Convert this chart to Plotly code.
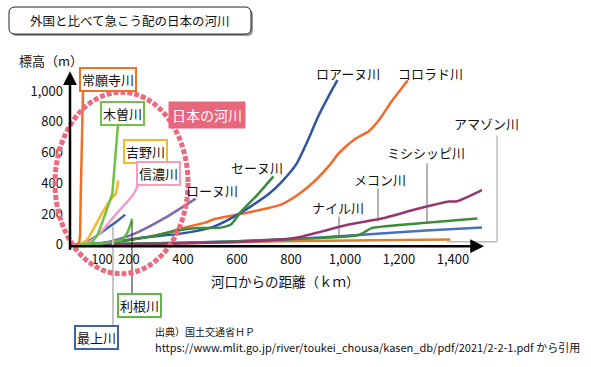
import plotly.graph_objects as go

W, H = 591, 367          # target picture size (pixels)
FIG_H = 375              # page height that gets photographed into 367 rows
VS = FIG_H / H           # vertical compensation factor


def X(px):
    return px / W


def Y(py):
    return 1 - py / H


# ---------------- data (distance from river mouth [km], elevation [m]) ----------------
jouganji_km = [0, 10, 16, 19, 21, 24, 27, 30]
jouganji_m = [0, 5, 20, 60, 300, 600, 850, 1030]

kiso_km = [0, 30, 50, 65, 85, 104, 120, 130, 138, 145, 152, 160]
kiso_m = [0, 3, 8, 20, 70, 160, 240, 290, 330, 480, 640, 800]

yoshino_km = [0, 20, 45, 67, 93, 119, 138, 149, 156, 160]
yoshino_m = [0, 5, 33, 98, 183, 261, 307, 327, 373, 418]

shinano_km = [0, 30, 67, 104, 138, 165, 194, 216, 235]
shinano_m = [0, 5, 33, 98, 170, 225, 281, 327, 392]

mogami_km = [0, 37, 70, 112, 149, 186]
mogami_m = [0, 11, 45, 98, 144, 196]

tone_km = [0, 60, 123, 175, 194, 205, 212]
tone_m = [0, 4, 13, 33, 78, 131, 170]

rhone_km = [0, 60, 112, 212, 335, 447]
rhone_m = [0, 3, 13, 65, 176, 300]

seine_km = [0, 100, 200, 300, 391, 454, 540, 577, 615, 678, 735]
seine_m = [0, 10, 30, 60, 95, 108, 111, 131, 215, 330, 445]

loire_km = [0, 130, 253, 391, 514, 615, 715, 763, 819, 864, 901, 939, 972]
loire_m = [0, 13, 46, 72, 118, 209, 327, 405, 523, 686, 837, 967, 1072]

colorado_km = [0, 104, 212, 335, 391, 484, 514, 640, 763, 827, 886, 939, 980,
               1035, 1088, 1128, 1173, 1233]
colorado_m = [0, 12, 33, 75, 105, 145, 165, 209, 261, 327, 412, 510, 601,
              686, 739, 817, 935, 1072]

nile_km = [0, 400, 763, 1050, 1300, 1520]
nile_m = [0, 12, 33, 63, 92, 113]

mississippi_km = [0, 400, 763, 1050, 1080, 1099, 1311, 1490]
mississippi_m = [0, 12, 33, 63, 90, 108, 144, 170]

mekong_km = [0, 300, 600, 763, 838, 912, 1013, 1136, 1259, 1385, 1415, 1520]
mekong_m = [0, 5, 18, 33, 52, 85, 131, 170, 229, 281, 283, 366]

amazon_km = [0, 400, 763, 1390]
amazon_m = [0, 10, 22, 33]

x_tickvals = [100, 200, 400, 600, 800, 1000, 1200, 1400]
x_ticktext = ["100", "200", "400", "600", "800", "1,000", "1,200", "1,400"]
y_tickvals = [0, 200, 400, 600, 800, 1000]
y_ticktext = ["0", "200", "400", "600", "800", "1,000"]

FONT = "Noto Sans CJK JP"

rivers = [
    ("アマゾン川", amazon_km, amazon_m, "#d3822f", "spline"),
    ("ナイル川", nile_km, nile_m, "#4a6fc0", "spline"),
    ("ミシシッピ川", mississippi_km, mississippi_m, "#3c8c3c", "spline"),
    ("メコン川", mekong_km, mekong_m, "#9b3473", "spline"),
    ("コロラド川", colorado_km, colorado_m, "#f26a2a", "spline"),
    ("ロアーヌ川", loire_km, loire_m, "#2f54a3", "spline"),
    ("セーヌ川", seine_km, seine_m, "#3b8a3e", "spline"),
    ("ローヌ川", rhone_km, rhone_m, "#8069ad", "spline"),
    ("利根川", tone_km, tone_m, "#5cb946", "spline"),
    ("最上川", mogami_km, mogami_m, "#3d62b0", "spline"),
    ("信濃川", shinano_km, shinano_m, "#f19ec2", "spline"),
    ("吉野川", yoshino_km, yoshino_m, "#f6b728", "spline"),
    ("木曽川", kiso_km, kiso_m, "#72c043", "linear"),
    ("常願寺川", jouganji_km, jouganji_m, "#f07028", "linear"),
]

fig = go.Figure()
for name, km, m, color, shape in rivers:
    line = dict(color=color, width=2.5, shape=shape)
    if shape == "spline":
        line["smoothing"] = 0.6
    fig.add_trace(go.Scatter(x=km, y=m, mode="lines", name=name, line=line,
                             hoverinfo="name"))

# axis geometry (target pixels): x: 0 km -> 75 px, 0.27 px/km ; y: 0 m -> 244 px, 0.153 px/m
XPX0, XS = 75.0, 0.27
YPX0, YS = 244.0, 0.153
ax_left, ax_right = 70, 482
ax_top, ax_bottom = 73, 245.5
x_range = [(ax_left - XPX0) / XS, (ax_right - XPX0) / XS]
y_range = [(YPX0 - ax_bottom) / YS, (YPX0 - ax_top) / YS]

fig.update_layout(
    width=W, height=FIG_H,
    margin=dict(l=0, r=0, t=0, b=0),
    paper_bgcolor="white", plot_bgcolor="white",
    showlegend=False,
    font=dict(family=FONT, color="#111"),
    xaxis=dict(domain=[X(ax_left), X(ax_right)], range=x_range,
               showgrid=False, zeroline=False, showline=False, ticks="",
               tickvals=x_tickvals, ticktext=x_ticktext,
               tickfont=dict(size=13, family=FONT, color="#111"),
               ticklabelstandoff=4, fixedrange=True),
    yaxis=dict(domain=[Y(ax_bottom), Y(ax_top)], range=y_range,
               showgrid=False, zeroline=False, showline=False, ticks="",
               tickvals=y_tickvals, ticktext=y_ticktext,
               tickfont=dict(size=13, family=FONT, color="#111"),
               ticklabelstandoff=6, fixedrange=True),
)

shapes = []


def rrect(x0, y0, x1, y1, r):
    rx, ry = r / W, r / H
    a, b, c, d = X(x0), Y(y0), X(x1), Y(y1)  # b top (higher), d bottom
    return (f"M {a+rx},{b} L {c-rx},{b} Q {c},{b} {c},{b-ry} L {c},{d+ry} "
            f"Q {c},{d} {c-rx},{d} L {a+rx},{d} Q {a},{d} {a},{d+ry} "
            f"L {a},{b-ry} Q {a},{b} {a+rx},{b} Z")


# title box with shadow
shapes.append(dict(type="path", xref="paper", yref="paper",
                   path=rrect(11, 9, 253, 36, 6), fillcolor="#9a9a9a",
                   line=dict(width=0), layer="above"))
shapes.append(dict(type="path", xref="paper", yref="paper",
                   path=rrect(9, 7, 251, 34, 6), fillcolor="white",
                   line=dict(color="#222", width=1), layer="above"))


def vline(x, y0, y1, color, width):
    shapes.append(dict(type="line", xref="paper", yref="paper",
                       x0=X(x), x1=X(x), y0=Y(y0), y1=Y(y1),
                       line=dict(color=color, width=width), layer="above"))


def hline(y, x0, x1, color, width):
    shapes.append(dict(type="line", xref="paper", yref="paper",
                       x0=X(x0), x1=X(x1), y0=Y(y), y1=Y(y),
                       line=dict(color=color, width=width), layer="above"))


# leader lines
vline(339, 216, 235, "#666", 1)          # ナイル川
vline(378, 188, 221, "#666", 1)          # メコン川
vline(427, 163, 223, "#666", 1)          # ミシシッピ川
vline(497, 135, 241, "#999", 1)          # アマゾン川
hline(241, 447, 497, "#bbb", 1.5)
vline(113, 226, 328, "#c4c4c4", 2)       # 最上川
vline(132, 221, 297, "#222", 1)          # 利根川

# dotted ellipse around Japanese rivers
shapes.append(dict(type="circle", xref="paper", yref="paper",
                   x0=X(55), x1=X(188), y0=Y(273), y1=Y(92),
                   line=dict(color="#ea6b80", width=5, dash="5px,2px"),
                   layer="above"))

fig.update_layout(shapes=shapes)

ann = []


def text(s, x, y, size=13, color="#111", xanchor="center", **kw):
    ann.append(dict(text=s, x=X(x), y=Y(y), xref="paper", yref="paper",
                    showarrow=False, xanchor=xanchor, yanchor="middle",
                    font=dict(size=size, color=color, family=FONT), **kw))


def boxed(s, x, y, border):
    text(s, x, y, size=13, bgcolor="white", bordercolor=border,
         borderwidth=2, borderpad=1)


text("外国と比べて急こう配の日本の河川", 130, 20.5, size=12.5)
text("標高（m）", 51, 60, size=13)
text("河口からの距離（ｋｍ）", 285, 280, size=13.5)

boxed("常願寺川", 108, 79, "#f07028")
boxed("木曽川", 122, 113.5, "#72c043")
boxed("吉野川", 145, 151.5, "#f6b728")
boxed("信濃川", 159, 173.5, "#f19ec2")
boxed("利根川", 139, 304.5, "#5cb946")
boxed("最上川", 96.5, 336.5, "#3d62b0")
text("日本の河川", 206.5, 115, size=14, color="white", bgcolor="#e8677c",
     borderpad=3)

text("ローヌ川", 212, 190)
text("セーヌ川", 257, 167)
text("ロアーヌ川", 348, 73)
text("コロラド川", 430, 73)
text("アマゾン川", 486, 123)
text("ミシシッピ川", 426, 152)
text("メコン川", 380, 179)
text("ナイル川", 338, 207)

text("出典）国土交通省ＨＰ", 153, 331, size=10, xanchor="left")
text("https://www.mlit.go.jp/river/toukei_chousa/kasen_db/pdf/2021/2-2-1.pdf から引用",
     153, 346.5, size=11, xanchor="left")

# axis arrows
ann.append(dict(x=X(70), y=Y(71), xref="paper", yref="paper", ax=0,
                ay=round(176 * VS), text="", showarrow=True, arrowhead=2,
                arrowsize=1.1, arrowwidth=2.5, arrowcolor="#000", standoff=0))
ann.append(dict(x=X(484), y=Y(245.5), xref="paper", yref="paper", ax=-416, ay=0,
                text="", showarrow=True, arrowhead=2, arrowsize=1.1,
                arrowwidth=2.5, arrowcolor="#000", standoff=0))

fig.update_layout(annotations=ann)

page_js = (
    "var h=document.documentElement, b=document.body;"
    "h.style.margin='0'; h.style.padding='0'; h.style.overflow='hidden';"
    "b.style.margin='0'; b.style.padding='0'; b.style.overflow='hidden';"
)

fig.write_html("out.html", config={"displayModeBar": False},
               post_script=page_js)
